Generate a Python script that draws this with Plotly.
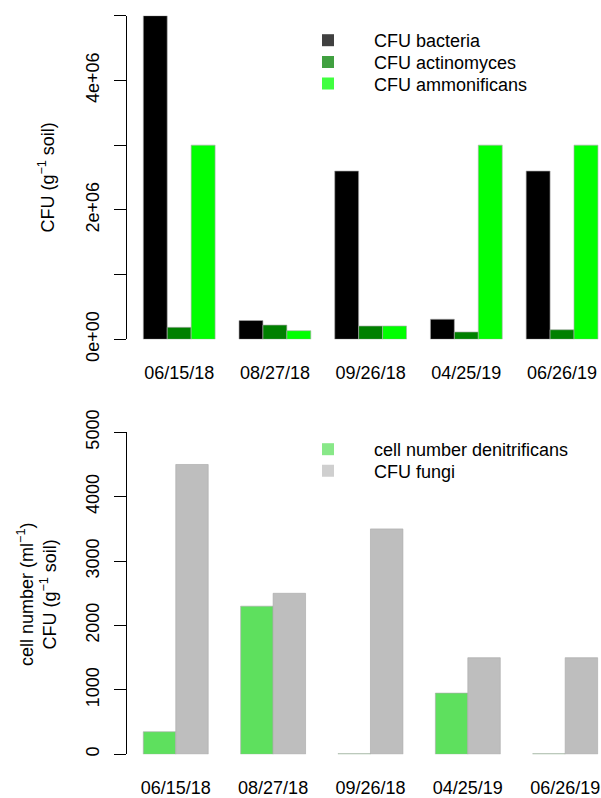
import plotly.graph_objects as go

# ---------------- data ----------------
dates = ["06/15/18", "08/27/18", "09/26/18", "04/25/19", "06/26/19"]

cfu_bacteria = [5.0e6, 0.29e6, 2.6e6, 0.31e6, 2.6e6]
cfu_actinomyces = [0.185e6, 0.22e6, 0.205e6, 0.113e6, 0.148e6]
cfu_ammonificans = [3.0e6, 0.133e6, 0.205e6, 3.0e6, 3.0e6]

denitrificans = [350, 2300, 10, 950, 10]
cfu_fungi = [4500, 2500, 3500, 1500, 1500]

top_tickvals = [0, 1e6, 2e6, 3e6, 4e6, 5e6]
top_ticktext = ["0e+00", "", "2e+06", "", "4e+06", ""]
bot_tickvals = [0, 1000, 2000, 3000, 4000, 5000]
bot_ticktext = ["0", "1000", "2000", "3000", "4000", "5000"]

# ---------------- style ----------------
W, H = 601, 798
FONT = "Liberation Sans, Arial, sans-serif"
FS = 18

top_series = [
    ("CFU bacteria", cfu_bacteria, "#000000", "#404040"),
    ("CFU actinomyces", cfu_actinomyces, "#008000", "#40a040"),
    ("CFU ammonificans", cfu_ammonificans, "#00ff00", "#40ff40"),
]
bot_series = [
    ("cell number denitrificans", denitrificans, "#5ee05e", "#88e888"),
    ("CFU fungi", cfu_fungi, "#bebebe", "#cfcfcf"),
]
# legend row centres (px from top)
top_rows = [40, 61.7, 83.3]
bot_rows = [449, 470.5]

fig = go.Figure()
edge = dict(color="rgba(170,170,170,0.8)", width=0.8)

leg = dict(font=dict(family=FONT, size=FS, color="black"), bgcolor="rgba(0,0,0,0)",
           borderwidth=0, itemwidth=82, xanchor="left", yanchor="top",
           itemclick=False, itemdoubleclick=False)
legends = {}
k = 0

n_top = len(top_series)
for i, (name, vals, col, lcol) in enumerate(top_series):
    k += 1
    lname = "legend" if k == 1 else f"legend{k}"
    legends[lname] = dict(leg, x=282 / W, y=1 - (top_rows[i] - 18) / H)
    fig.add_trace(go.Bar(x=dates, y=vals, name=name, marker=dict(color=col, line=edge),
                         width=0.75 / n_top, offset=-0.375 + i * 0.75 / n_top,
                         xaxis="x", yaxis="y", showlegend=False, hoverinfo="skip"))
    fig.add_trace(go.Bar(x=[None], y=[None], name=name, marker=dict(color=lcol, line=dict(width=0)),
                         xaxis="x", yaxis="y", legend=lname, showlegend=True))

n_bot = len(bot_series)
for i, (name, vals, col, lcol) in enumerate(bot_series):
    k += 1
    lname = f"legend{k}"
    legends[lname] = dict(leg, x=282 / W, y=1 - (bot_rows[i] - 18) / H)
    fig.add_trace(go.Bar(x=dates, y=vals, name=name, marker=dict(color=col, line=edge),
                         width=(2 / 3) / n_bot, offset=-1 / 3 + i * (2 / 3) / n_bot,
                         xaxis="x2", yaxis="y2", showlegend=False, hoverinfo="skip"))
    fig.add_trace(go.Bar(x=[None], y=[None], name=name, marker=dict(color=lcol, line=dict(width=0)),
                         xaxis="x2", yaxis="y2", legend=lname, showlegend=True))

xcommon = dict(type="category", showline=False, showgrid=False, zeroline=False, ticks="",
               tickfont=dict(family=FONT, size=FS, color="black"), ticklabelstandoff=21,
               automargin=False, fixedrange=True)
ycommon = dict(showline=True, linecolor="black", linewidth=1, showgrid=False, zeroline=False,
               ticks="outside", ticklen=12, tickcolor="black", tickwidth=1, tickangle=-90,
               tickfont=dict(family=FONT, size=FS, color="black"), ticklabelstandoff=8,
               tickmode="array", automargin=False, fixedrange=True)

fig.update_layout(
    template="none",
    width=W, height=H,
    margin=dict(l=0, r=0, t=0, b=0, pad=0, autoexpand=False),
    paper_bgcolor="white", plot_bgcolor="white",
    barmode="overlay",
    font=dict(family=FONT, size=FS, color="black"),
    xaxis=dict(xcommon, domain=[127 / W, 1], range=[-0.5453, 4.407], anchor="y"),
    yaxis=dict(ycommon, domain=[1 - 339.3 / H, 1 - 15.7 / H], range=[0, 5e6],
               tickvals=top_tickvals, ticktext=top_ticktext, anchor="x"),
    xaxis2=dict(xcommon, domain=[127 / W, 1], range=[-0.5008, 4.368], anchor="y2"),
    yaxis2=dict(ycommon, domain=[1 - 754.3 / H, 1 - 432.3 / H], range=[0, 5000],
                tickvals=bot_tickvals, ticktext=bot_ticktext, anchor="x2"),
    annotations=[
        dict(text="CFU (g<sup>−1</sup> soil)", x=47 / W, y=1 - 177.5 / H, xref="paper", yref="paper",
             xanchor="center", yanchor="middle",
             textangle=-90, showarrow=False, font=dict(family=FONT, size=FS, color="black")),
        dict(text="cell number (ml<sup>−1</sup>)<br>CFU (g<sup>−1</sup> soil)", x=37 / W, y=1 - 595 / H,
             xref="paper", yref="paper", xanchor="center", yanchor="middle",
             textangle=-90, showarrow=False,
             font=dict(family=FONT, size=FS, color="black")),
    ],
)
fig.update_layout(**legends)

fig.write_html("out.html", config={"displayModeBar": False},
               post_script="document.body.style.margin='0';document.body.style.overflow='hidden';")
